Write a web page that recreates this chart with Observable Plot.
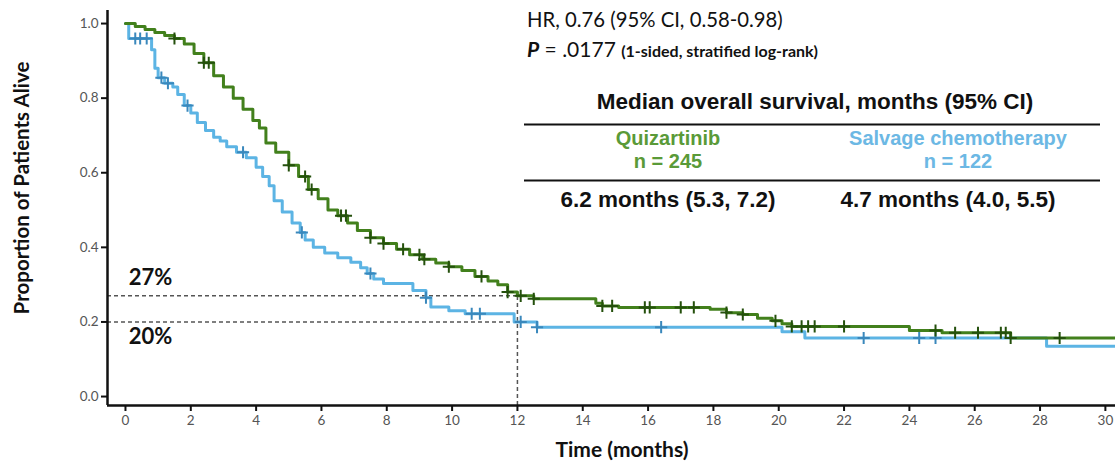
<!DOCTYPE html>
<html>
<head>
<meta charset="utf-8">
<script src="https://cdn.jsdelivr.net/npm/d3@7"></script>
<script src="https://cdn.jsdelivr.net/npm/@observablehq/plot@0.6"></script>
<style>
  html, body { margin: 0; padding: 0; background: #ffffff; }
  #chart svg { display: block; }
</style>
</head>
<body>
<div id="chart"></div>
<script>
// ---- Data ----
const quizTime = [0, 0.3, 0.6, 0.9, 1.2, 1.5, 1.8, 2.1, 2.4, 2.7, 3.0, 3.3, 3.6, 3.9, 4.1, 4.3, 4.6, 5.0, 5.3, 5.6, 5.9, 6.2, 6.5, 6.8, 7.1, 7.5, 7.9, 8.3, 8.7, 9.1, 9.5, 9.9, 10.3, 10.7, 11.1, 11.4, 11.7, 12.0, 12.5, 14.4, 14.6, 15.1, 17.9, 18.4, 18.9, 19.35, 19.8, 20.1, 20.4, 24.0, 25.0, 27.1, 30.3];
const quizSurv = [1.0, 0.992, 0.984, 0.976, 0.968, 0.96, 0.945, 0.92, 0.895, 0.86, 0.83, 0.80, 0.77, 0.74, 0.72, 0.68, 0.655, 0.62, 0.59, 0.555, 0.53, 0.50, 0.485, 0.465, 0.445, 0.426, 0.41, 0.395, 0.38, 0.368, 0.358, 0.348, 0.338, 0.322, 0.31, 0.30, 0.28, 0.27, 0.262, 0.25, 0.243, 0.239, 0.234, 0.225, 0.22, 0.21, 0.203, 0.195, 0.188, 0.177, 0.171, 0.157, 0.157];
const chemoTime = [0, 0.1, 0.8, 0.9, 1.0, 1.2, 1.45, 1.6, 1.8, 2.0, 2.2, 2.45, 2.7, 2.9, 3.1, 3.4, 3.7, 4.0, 4.2, 4.4, 4.55, 4.8, 5.1, 5.35, 5.5, 5.75, 6.1, 6.5, 6.9, 7.2, 7.4, 7.6, 7.9, 8.8, 9.2, 9.35, 9.9, 10.4, 11.9, 12.6, 20.1, 20.8, 28.2, 30.3];
const chemoSurv = [1.0, 0.96, 0.93, 0.88, 0.855, 0.84, 0.83, 0.81, 0.78, 0.76, 0.735, 0.713, 0.695, 0.685, 0.67, 0.655, 0.64, 0.615, 0.59, 0.565, 0.525, 0.495, 0.465, 0.44, 0.42, 0.40, 0.385, 0.372, 0.36, 0.345, 0.33, 0.315, 0.303, 0.284, 0.265, 0.24, 0.23, 0.222, 0.20, 0.186, 0.174, 0.157, 0.135, 0.135];
const quizCensor = [1.5, 2.4, 2.55, 5.0, 5.5, 5.7, 6.6, 6.75, 7.5, 7.9, 8.5, 9.0, 9.15, 9.9, 10.9, 11.7, 12.1, 12.5, 14.6, 14.9, 15.9, 16.05, 17.0, 17.4, 18.4, 18.9, 19.9, 20.4, 20.7, 20.9, 21.1, 22.0, 24.8, 25.4, 26.1, 26.8, 26.95, 27.1, 28.6];
const chemoCensor = [0.3, 0.45, 0.65, 1.1, 1.3, 1.9, 3.6, 5.4, 7.5, 9.2, 10.6, 10.85, 12.1, 12.6, 16.4, 22.6, 24.3, 24.8];
const xTicks = [0, 2, 4, 6, 8, 10, 12, 14, 16, 18, 20, 22, 24, 26, 28, 30];
const yTicks = [0.0, 0.2, 0.4, 0.6, 0.8, 1.0];
const refLevels = [0.27, 0.20];
const refLabels = ["27%", "20%"];
const refTime = 12;
const armNames = ["Quizartinib", "Salvage chemotherapy"];
const armN = ["n = 245", "n = 122"];
const armMedians = ["6.2 months (5.3, 7.2)", "4.7 months (4.0, 5.5)"];
const hrText = "HR, 0.76 (95% CI, 0.58-0.98)";
const pValue = " = .0177";
const pNote = "(1-sided, stratified log-rank)";
const tableTitle = "Median overall survival, months (95% CI)";
const xLabel = "Time (months)";
const yLabel = "Proportion of Patients Alive";

// ---- Build tables ----
const quiz = quizTime.map((t, i) => ({t, s: quizSurv[i]}));
const chemo = chemoTime.map((t, i) => ({t, s: chemoSurv[i]}));
function survAt(times, surv, t) {
  let s = surv[0];
  for (let i = 0; i < times.length; i++) if (times[i] <= t) s = surv[i];
  return s;
}
const quizC = quizCensor.map(t => ({t, s: survAt(quizTime, quizSurv, t)}));
const chemoC = chemoCensor.map(t => ({t, s: survAt(chemoTime, chemoSurv, t)}));
const refRows = refLevels.map((v, i) => ({v, label: refLabels[i]}));

const GREEN = "#42801c", GREEN_DARK = "#24500c";
const BLUE = "#5cb4e4", BLUE_DARK = "#3a88bc";
const xDomain = [-0.55, 30.31];
const yDomain = [-0.024, 1.035];

const plot = Plot.plot({
  width: 1115,
  height: 463,
  marginLeft: 107,
  marginRight: 0,
  marginTop: 10,
  marginBottom: 58,
  x: {domain: xDomain},
  y: {domain: yDomain},
  style: {fontFamily: "Lato, sans-serif", background: "#ffffff"},
  marks: [
    // reference dashed lines
    Plot.ruleY(refRows, {y: "v", x1: xDomain[0], x2: refTime, stroke: "#555", strokeWidth: 1.5, strokeDasharray: "4,3"}),
    Plot.ruleX([refTime], {y1: yDomain[0], y2: refLevels[0], stroke: "#555", strokeWidth: 1.5, strokeDasharray: "4,3"}),
    Plot.text([refRows[0]], {x: 0.1, y: "v", text: "label", textAnchor: "start", lineAnchor: "bottom", dy: -11, fontSize: 22, fontWeight: "bold", fill: "#111"}),
    Plot.text([refRows[1]], {x: 0.1, y: "v", text: "label", textAnchor: "start", lineAnchor: "top", dy: 6, fontSize: 22, fontWeight: "bold", fill: "#111"}),
    // survival curves
    Plot.line(chemo, {x: "t", y: "s", curve: "step-after", stroke: BLUE, strokeWidth: 3}),
    Plot.line(quiz, {x: "t", y: "s", curve: "step-after", stroke: GREEN, strokeWidth: 3}),
    // censor marks
    Plot.dot(chemoC, {x: "t", y: "s", symbol: "plus", r: 4, stroke: BLUE_DARK, strokeWidth: 2}),
    Plot.dot(quizC, {x: "t", y: "s", symbol: "plus", r: 4, stroke: GREEN_DARK, strokeWidth: 2}),
    // axes
    Plot.axisX({ticks: xTicks, tickSize: 6, tickPadding: 4, fontSize: 13.5, stroke: "#111", strokeWidth: 2, fill: "#555", label: null}),
    Plot.axisY({ticks: yTicks, tickSize: 6, tickPadding: 3, tickFormat: d3.format(".1f"), fontSize: 13.5, stroke: "#111", strokeWidth: 2, fill: "#555", label: null}),
    Plot.ruleX([xDomain[0]], {y1: yDomain[0], y2: yDomain[1], stroke: "#111", strokeWidth: 2.5}),
    Plot.ruleY([yDomain[0]], {x1: xDomain[0], x2: xDomain[1], stroke: "#111", strokeWidth: 2.5})
  ]
});
document.getElementById("chart").appendChild(plot);

// ---- Annotations: axis titles and the summary table ----
const svg = d3.select(plot);
svg.append("text")
  .attr("transform", "translate(29,188) rotate(-90)")
  .attr("text-anchor", "middle")
  .style("font-family", "Lato, sans-serif").style("font-weight", "bold").style("font-size", "20.5px").attr("fill", "#111")
  .text(yLabel);
svg.append("text")
  .attr("x", 622).attr("y", 457).attr("text-anchor", "middle")
  .style("font-family", "Lato, sans-serif").style("font-weight", "bold").style("font-size", "21px").attr("fill", "#111")
  .text(xLabel);

const g = svg.append("g").attr("fill", "#111");
g.append("text").attr("x", 527).attr("y", 27).attr("text-anchor", "start")
  .style("font-family", "Lato, sans-serif").style("font-size", "20.3px").text(hrText);
const p = g.append("text").attr("x", 527).attr("y", 57).attr("text-anchor", "start").style("font-family", "Lato, sans-serif");
p.append("tspan").style("font-style", "italic").style("font-weight", "bold").style("font-size", "21px").text("P");
p.append("tspan").style("font-size", "21px").text(pValue + " ");
p.append("tspan").style("font-weight", "bold").style("font-size", "16px").text(pNote);

const tf = "'Liberation Sans', Arial, sans-serif";
g.append("text").attr("x", 815).attr("y", 109).attr("text-anchor", "middle")
  .style("font-family", tf).style("font-weight", "bold").style("font-size", "22.5px").text(tableTitle);
g.append("line").attr("x1", 524).attr("x2", 1100).attr("y1", 124.5).attr("y2", 124.5).attr("stroke", "#111").attr("stroke-width", 2);
g.append("line").attr("x1", 524).attr("x2", 1100).attr("y1", 180.5).attr("y2", 180.5).attr("stroke", "#111").attr("stroke-width", 2);
const colX = [668, 958];
const colMedX = [668, 948];
const colCol = ["#5a9a38", "#6cb8e4"];
armNames.forEach((name, i) => {
  g.append("text").attr("x", colX[i]).attr("y", 145).attr("text-anchor", "middle")
    .style("font-family", tf).style("font-weight", "bold").style("font-size", "20px").attr("fill", colCol[i]).text(name);
  g.append("text").attr("x", colX[i]).attr("y", 168).attr("text-anchor", "middle")
    .style("font-family", tf).style("font-weight", "bold").style("font-size", "20px").attr("fill", colCol[i]).text(armN[i]);
  g.append("text").attr("x", colMedX[i]).attr("y", 207).attr("text-anchor", "middle")
    .style("font-family", tf).style("font-weight", "bold").style("font-size", "22.5px").text(armMedians[i]);
});
</script>
</body>
</html>
